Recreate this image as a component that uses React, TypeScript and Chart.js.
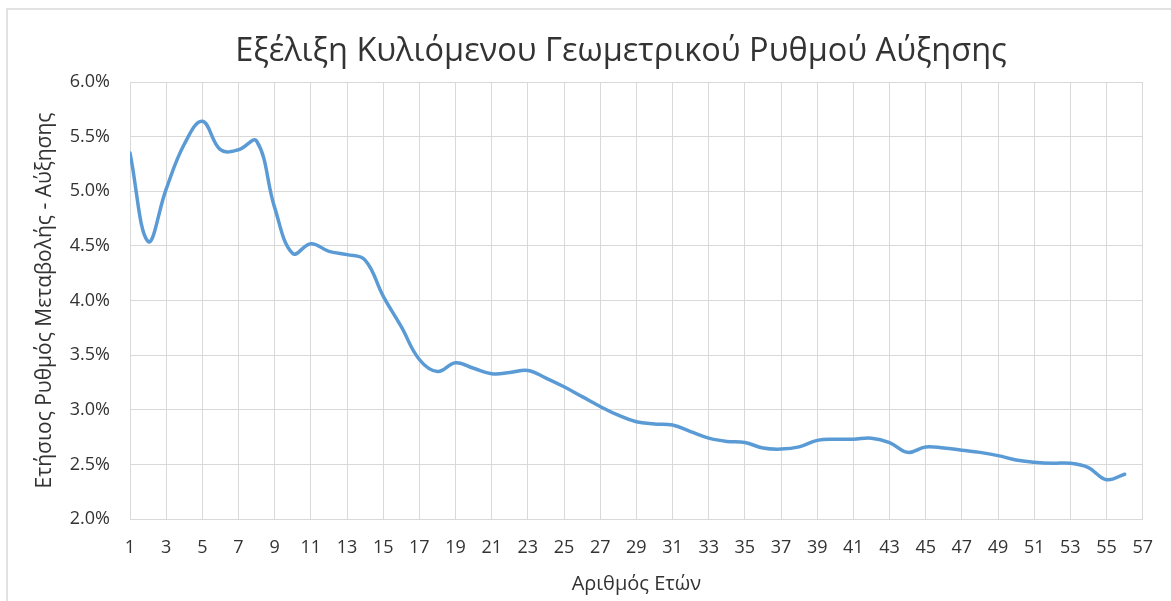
import React, { useEffect, useRef } from "react";
import { Chart, registerables } from "chart.js";

Chart.register(...registerables);

const TITLE = "Εξέλιξη Κυλιόμενου Γεωμετρικού Ρυθμού Αύξησης";
const Y_TITLE = "Ετήσιος Ρυθμός Μεταβολής - Αύξησης";
const X_TITLE = "Αριθμός Ετών";

const years = [
  1, 2, 3, 4, 5, 6, 7, 8, 9, 10, 11, 12, 13, 14, 15, 16, 17, 18, 19, 20,
  21, 22, 23, 24, 25, 26, 27, 28, 29, 30, 31, 32, 33, 34, 35, 36, 37, 38, 39, 40,
  41, 42, 43, 44, 45, 46, 47, 48, 49, 50, 51, 52, 53, 54, 55, 56,
];

// annual rate of change (%)
const rates = [
  5.35, 4.54, 5.02, 5.43, 5.64, 5.38, 5.38, 5.46, 4.85, 4.43,
  4.52, 4.45, 4.42, 4.37, 4.04, 3.76, 3.46, 3.35, 3.43, 3.38,
  3.33, 3.34, 3.36, 3.29, 3.21, 3.12, 3.03, 2.95, 2.89, 2.87,
  2.86, 2.8, 2.74, 2.71, 2.7, 2.65, 2.64, 2.66, 2.72, 2.73,
  2.73, 2.74, 2.7, 2.61, 2.66, 2.65, 2.63, 2.61, 2.58, 2.54,
  2.52, 2.51, 2.51, 2.47, 2.36, 2.41,
];

const X_MIN = 1;
const X_MAX = 57;
const X_STEP = 2;
const Y_MIN = 2;
const Y_MAX = 6;
const Y_STEP = 0.5;

const FONT = '"Open Sans", "Noto Sans", sans-serif';
const TEXT = "#333333";
const GRID = "#d9d9d9";
const LINE = "#5b9bd5";

const titlePlugin = {
  id: "customTitle",
  afterDraw(chart: any) {
    const ctx = chart.ctx;
    ctx.save();
    ctx.font = `32.5px ${FONT}`;
    ctx.fillStyle = TEXT;
    ctx.textAlign = "center";
    ctx.textBaseline = "alphabetic";
    ctx.fillText(TITLE, 621, 61);
    ctx.restore();
  },
};

export default function App() {
  const ref = useRef<HTMLCanvasElement | null>(null);

  useEffect(() => {
    if (!ref.current) return;
    const chart = new Chart(ref.current, {
      type: "line",
      data: {
        datasets: [
          {
            data: years.map((x, i) => ({ x, y: rates[i] })),
            borderColor: LINE,
            backgroundColor: LINE,
            borderWidth: 3.5,
            pointRadius: 0,
            tension: 0.4,
            fill: false,
            borderCapStyle: "round",
            borderJoinStyle: "round",
          },
        ],
      },
      options: {
        responsive: false,
        animation: false,
        layout: { padding: { top: 82, right: 25, left: 0, bottom: 0 } },
        plugins: {
          legend: { display: false },
          tooltip: { enabled: false },
          title: { display: false },
        },
        scales: {
          x: {
            type: "linear",
            min: X_MIN,
            max: X_MAX,
            ticks: {
              stepSize: X_STEP,
              autoSkip: false,
              maxRotation: 0,
              padding: 18,
              color: TEXT,
              font: { family: FONT, size: 18 },
            },
            grid: { color: GRID, lineWidth: 1, drawTicks: false },
            border: { color: GRID },
            title: {
              display: true,
              text: X_TITLE,
              color: TEXT,
              font: { family: FONT, size: 20 },
              padding: { top: 0, bottom: 5 },
            },
            afterFit: (s: any) => {
              s.height = 82;
            },
          },
          y: {
            min: Y_MIN,
            max: Y_MAX,
            ticks: {
              stepSize: Y_STEP,
              padding: 20,
              color: TEXT,
              font: { family: FONT, size: 18 },
              callback: (v: any) => Number(v).toFixed(1) + "%",
            },
            grid: { color: GRID, lineWidth: 1, drawTicks: false },
            border: { color: GRID },
            title: {
              display: true,
              text: Y_TITLE,
              color: TEXT,
              font: { family: FONT, size: 21 },
              padding: { top: 32, bottom: 0 },
            },
            afterFit: (s: any) => {
              s.width = 130;
            },
          },
        },
      },
      plugins: [titlePlugin],
    });
    return () => chart.destroy();
  }, []);

  return (
    <div
      style={{
        position: "fixed",
        left: 0,
        top: 0,
        width: 1171,
        height: 601,
        background: "#ffffff",
        overflow: "hidden",
      }}
    >
      <div
        style={{
          position: "absolute",
          left: 6,
          top: 8,
          right: -10,
          bottom: -10,
          borderTop: "2px solid #e2e2e2",
          borderLeft: "2px solid #e2e2e2",
        }}
      />
      <canvas
        ref={ref}
        width={1171}
        height={601}
        style={{ position: "absolute", left: 0, top: 0, width: 1171, height: 601 }}
      />
    </div>
  );
}
